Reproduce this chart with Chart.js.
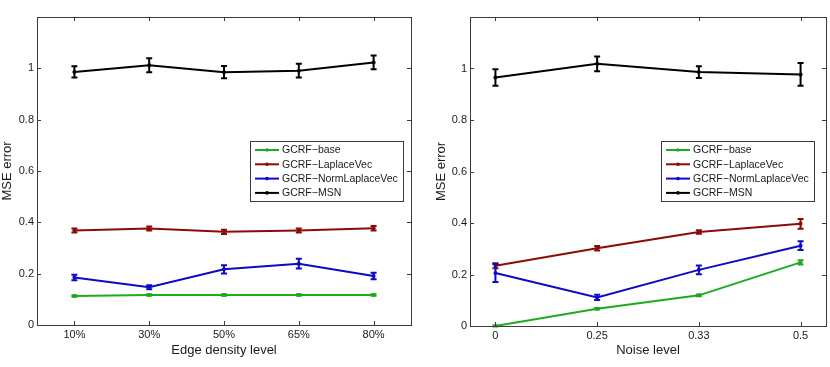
<!DOCTYPE html>
<html>
<head>
<meta charset="utf-8">
<script src="https://cdn.jsdelivr.net/npm/chart.js@4.4.1/dist/chart.umd.min.js"></script>
<style>
    html, body { margin: 0; padding: 0; background: #fff; }
    #wrap { position: relative; width: 830px; height: 367px; }
    .panel { position: absolute; top: 0; width: 415px; height: 367px; }
</style>
</head>
<body>
<div id="wrap">
    <div class="panel" style="left:0"><canvas id="densityChart" width="415" height="367"></canvas></div>
    <div class="panel" style="left:415px"><canvas id="noiseChart" width="415" height="367"></canvas></div>
</div>
<script>
(function () {
    'use strict';

    // Series names (MATLAB renders '-' as a minus sign)
    var seriesNames = ['GCRF\u2212base', 'GCRF\u2212LaplaceVec', 'GCRF\u2212NormLaplaceVec', 'GCRF\u2212MSN'];
    var seriesColors = ['rgb(30, 170, 30)', 'rgb(140, 10, 10)', 'rgb(10, 10, 200)', 'rgb(0, 0, 0)'];

    var yTicks = [0, 0.2, 0.4, 0.6, 0.8, 1];

    // Left panel: edge density
    var densityLabels = ['10%', '30%', '50%', '65%', '80%'];
    var densityBase = [0.113, 0.117, 0.117, 0.117, 0.117];
    var densityBaseErr = [0.003, 0.003, 0.003, 0.003, 0.003];
    var densityLaplace = [0.368, 0.376, 0.363, 0.368, 0.377];
    var densityLaplaceErr = [0.008, 0.008, 0.008, 0.008, 0.009];
    var densityNorm = [0.185, 0.147, 0.217, 0.239, 0.191];
    var densityNormErr = [0.011, 0.008, 0.016, 0.019, 0.013];
    var densityMsn = [0.986, 1.012, 0.985, 0.991, 1.023];
    var densityMsnErr = [0.022, 0.027, 0.024, 0.027, 0.027];

    // Right panel: noise level
    var noiseLabels = ['0', '0.25', '0.33', '0.5'];
    var noiseBase = [0.0, 0.067, 0.119, 0.247];
    var noiseBaseErr = [0.002, 0.003, 0.003, 0.008];
    var noiseLaplace = [0.234, 0.302, 0.365, 0.397];
    var noiseLaplaceErr = [0.010, 0.009, 0.007, 0.019];
    var noiseNorm = [0.206, 0.111, 0.218, 0.312];
    var noiseNormErr = [0.035, 0.010, 0.017, 0.017];
    var noiseMsn = [0.965, 1.018, 0.986, 0.977];
    var noiseMsnErr = [0.032, 0.029, 0.023, 0.044];

    var fontFamily = '"Liberation Sans", Arial, Helvetica, sans-serif';
    var textColor = '#1a1a1a';
    var frameColor = '#3a3a3a';

    // error bars, box frame with inward ticks, and a MATLAB-like legend
    var matlabPlugin = {
        id: 'matlab',
        afterDatasetsDraw: function (chart) {
            var ctx = chart.ctx;
            var yScale = chart.scales.y;
            chart.data.datasets.forEach(function (ds, i) {
                var meta = chart.getDatasetMeta(i);
                ctx.save();
                ctx.strokeStyle = ds.borderColor;
                ctx.lineWidth = 2;
                meta.data.forEach(function (pt, j) {
                    var v = ds.data[j].y;
                    var e = ds.errors[j];
                    var yt = yScale.getPixelForValue(v + e);
                    var yb = yScale.getPixelForValue(v - e);
                    ctx.beginPath();
                    ctx.moveTo(pt.x, yt);
                    ctx.lineTo(pt.x, yb);
                    ctx.moveTo(pt.x - 3, yt);
                    ctx.lineTo(pt.x + 3, yt);
                    ctx.moveTo(pt.x - 3, yb);
                    ctx.lineTo(pt.x + 3, yb);
                    ctx.stroke();
                });
                ctx.restore();
            });
        },
        afterDraw: function (chart, args, opts) {
            var ctx = chart.ctx;
            var a = chart.chartArea;
            var xs = chart.scales.x;
            var ys = chart.scales.y;
            ctx.save();
            ctx.strokeStyle = frameColor;
            ctx.lineWidth = 1;
            ctx.strokeRect(Math.round(a.left) + 0.5, Math.round(a.top) + 0.5,
                Math.round(a.right - a.left), Math.round(a.bottom - a.top));
            ctx.beginPath();
            xs.ticks.forEach(function (t) {
                var px = Math.round(xs.getPixelForValue(t.value)) + 0.5;
                ctx.moveTo(px, a.bottom);
                ctx.lineTo(px, a.bottom - 4);
                ctx.moveTo(px, a.top);
                ctx.lineTo(px, a.top + 4);
            });
            ys.ticks.forEach(function (t) {
                var py = Math.round(ys.getPixelForValue(t.value)) + 0.5;
                ctx.moveTo(a.left, py);
                ctx.lineTo(a.left + 4, py);
                ctx.moveTo(a.right, py);
                ctx.lineTo(a.right - 4, py);
            });
            ctx.stroke();

            // legend
            var lx = opts.left, ly = opts.top, lw = 153, lh = 60;
            ctx.fillStyle = '#fff';
            ctx.fillRect(lx, ly, lw, lh);
            ctx.strokeStyle = frameColor;
            ctx.strokeRect(lx + 0.5, ly + 0.5, lw, lh);
            ctx.font = '10.5px ' + fontFamily;
            ctx.textBaseline = 'middle';
            ctx.textAlign = 'left';
            chart.data.datasets.forEach(function (ds, i) {
                var cy = ly + 9 + i * 14.3;
                ctx.strokeStyle = ds.borderColor;
                ctx.lineWidth = 2;
                ctx.beginPath();
                ctx.moveTo(lx + 5, cy);
                ctx.lineTo(lx + 29, cy);
                ctx.stroke();
                ctx.fillStyle = ds.borderColor;
                ctx.beginPath();
                ctx.arc(lx + 17, cy, 1.8, 0, Math.PI * 2);
                ctx.fill();
                ctx.fillStyle = textColor;
                ctx.fillText(ds.label, lx + 32, cy + 0.5);
            });
            ctx.restore();
        }
    };

    function makeDatasets(values, errors) {
        return values.map(function (vals, i) {
            return {
                label: seriesNames[i],
                data: vals.map(function (v, j) { return { x: j + 1, y: v }; }),
                errors: errors[i],
                borderColor: seriesColors[i],
                backgroundColor: seriesColors[i],
                borderWidth: 2,
                pointRadius: 2,
                pointBorderWidth: 0,
                tension: 0
            };
        });
    }

    function makeChart(el, cfg) {
        var labels = cfg.labels;
        return new Chart(el.getContext('2d'), {
            type: 'line',
            data: { datasets: makeDatasets(cfg.values, cfg.errors) },
            options: {
                responsive: false,
                animation: false,
                events: [],
                layout: { padding: { left: 0, right: cfg.padRight, top: 17, bottom: 0 } },
                plugins: {
                    legend: { display: false },
                    tooltip: { enabled: false },
                    matlab: { left: cfg.legendLeft, top: 141 }
                },
                scales: {
                    x: {
                        type: 'linear',
                        min: cfg.xMin,
                        max: cfg.xMax,
                        grid: { display: false, drawTicks: false },
                        border: { display: false },
                        afterBuildTicks: function (s) {
                            s.ticks = labels.map(function (l, i) { return { value: i + 1 }; });
                        },
                        afterFit: function (s) { s.height = cfg.xHeight; },
                        ticks: {
                            autoSkip: false,
                            maxRotation: 0,
                            padding: 3,
                            color: textColor,
                            font: { family: fontFamily, size: 11 },
                            callback: function (v) { return labels[Math.round(v) - 1]; }
                        },
                        title: {
                            display: true,
                            text: cfg.xTitle,
                            color: textColor,
                            font: { family: fontFamily, size: 13 },
                            padding: { top: 0, bottom: 9 }
                        }
                    },
                    y: {
                        min: 0,
                        max: 1.2,
                        grid: { display: false, drawTicks: false },
                        border: { display: false },
                        afterBuildTicks: function (s) {
                            s.ticks = yTicks.map(function (v) { return { value: v }; });
                        },
                        afterFit: function (s) { s.width = cfg.yWidth; },
                        ticks: {
                            padding: 3,
                            color: textColor,
                            font: { family: fontFamily, size: 11 },
                            callback: function (v) { return String(Math.round(v * 10) / 10); }
                        },
                        title: {
                            display: true,
                            text: 'MSE error',
                            color: textColor,
                            font: { family: fontFamily, size: 13 },
                            padding: { top: cfg.yTitlePad, bottom: 0 }
                        }
                    }
                }
            },
            plugins: [matlabPlugin]
        });
    }

    document.addEventListener('DOMContentLoaded', function () {
        makeChart(document.getElementById('densityChart'), {
            labels: densityLabels,
            values: [densityBase, densityLaplace, densityNorm, densityMsn],
            errors: [densityBaseErr, densityLaplaceErr, densityNormErr, densityMsnErr],
            xMin: 0.5, xMax: 5.5,
            xTitle: 'Edge density level',
            xHeight: 42, yWidth: 37, yTitlePad: 0, padRight: 3,
            legendLeft: 250
        });

        makeChart(document.getElementById('noiseChart'), {
            labels: noiseLabels,
            values: [noiseBase, noiseLaplace, noiseNorm, noiseMsn],
            errors: [noiseBaseErr, noiseLaplaceErr, noiseNormErr, noiseMsnErr],
            xMin: 0.75, xMax: 4.25,
            xTitle: 'Noise level',
            xHeight: 41, yWidth: 55, yTitlePad: 19, padRight: 1,
            legendLeft: 246
        });
    });
})();
</script>
</body>
</html>
